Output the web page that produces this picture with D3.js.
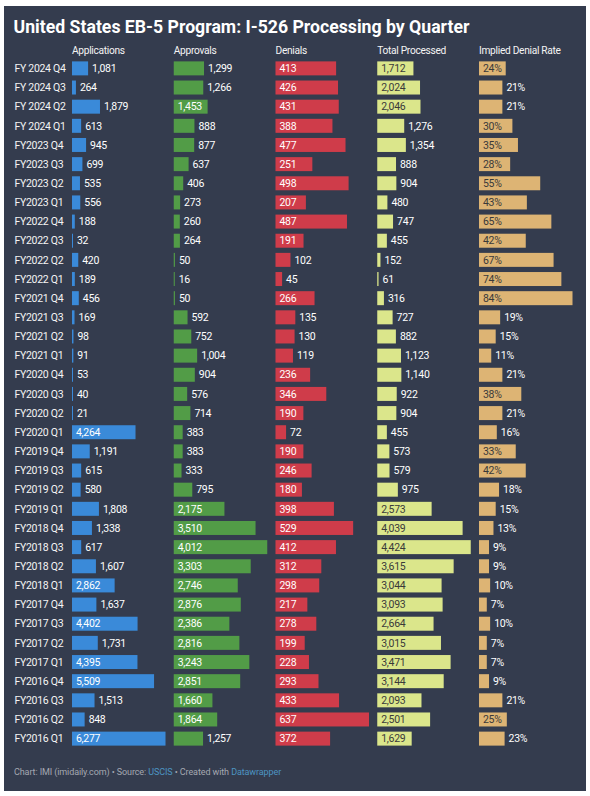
<!DOCTYPE html>
<html><head><meta charset="utf-8">
<script src="https://cdn.jsdelivr.net/npm/d3@7"></script>
<style>
body{margin:0;background:#fff}
svg{display:block}
text{font-family:Roboto,"Noto Sans",sans-serif}
</style></head>
<body><svg id="c" width="590" height="796"></svg>
<script>
const quarters = ["FY 2024 Q4","FY 2024 Q3","FY 2024 Q2","FY 2024 Q1","FY2023 Q4","FY2023 Q3","FY2023 Q2","FY2023 Q1","FY2022 Q4","FY2022 Q3","FY2022 Q2","FY2022 Q1","FY2021 Q4","FY2021 Q3","FY2021 Q2","FY2021 Q1","FY2020 Q4","FY2020 Q3","FY2020 Q2","FY2020 Q1","FY2019 Q4","FY2019 Q3","FY2019 Q2","FY2019 Q1","FY2018 Q4","FY2018 Q3","FY2018 Q2","FY2018 Q1","FY2017 Q4","FY2017 Q3","FY2017 Q2","FY2017 Q1","FY2016 Q4","FY2016 Q3","FY2016 Q2","FY2016 Q1"];
const applications = [1081,264,1879,613,945,699,535,556,188,32,420,189,456,169,98,91,53,40,21,4264,1191,615,580,1808,1338,617,1607,2862,1637,4402,1731,4395,5509,1513,848,6277];
const approvals = [1299,1266,1453,888,877,637,406,273,260,264,50,16,50,592,752,1004,904,576,714,383,383,333,795,2175,3510,4012,3303,2746,2876,2386,2816,3243,2851,1660,1864,1257];
const denials = [413,426,431,388,477,251,498,207,487,191,102,45,266,135,130,119,236,346,190,72,190,246,180,398,529,412,312,298,217,278,199,228,293,433,637,372];
const totalProcessed = [1712,2024,2046,1276,1354,888,904,480,747,455,152,61,316,727,882,1123,1140,922,904,455,573,579,975,2573,4039,4424,3615,3044,3093,2664,3015,3471,3144,2093,2501,1629];
const denialRate = [24,21,21,30,35,28,55,43,65,42,67,74,84,19,15,11,21,38,21,16,33,42,18,15,13,9,9,10,7,10,7,7,9,21,25,23];
const columnTitles = ["Applications","Approvals","Denials","Total Processed","Implied Denial Rate"];
const columnValues = [applications, approvals, denials, totalProcessed, denialRate];
const barColors = ["#3a8ad9","#529c47","#cf3c4a","#dbe68b","#ddb474"];
const insideText = ["#ffffff","#ffffff","#ffffff","#3a3a3a","#3a3a3a"];
const title = "United States EB-5 Program: I-526 Processing by Quarter";

const svg = d3.select("#c");
svg.append("rect").attr("x",4).attr("y",6).attr("width",582).attr("height",785).attr("fill","#343c4e");

svg.append("text").attr("x",13.5).attr("y",32.7).attr("fill","#ffffff")
  .attr("font-size",17.5).attr("font-weight",700)
  .attr("textLength",456).attr("lengthAdjust","spacingAndGlyphs").text(title);

const y = d3.scaleBand().domain(quarters).range([58.8, 58.8 + 36*19.15]).paddingInner(0.27).paddingOuter(0.135);
const col = d3.scaleBand().domain(columnTitles).range([72, 72 + 4*101.75 + 93.5]).paddingInner(8.25/101.75).paddingOuter(0);
const fmtN = d3.format(",");
const FS = 10.5, LS = -0.3;

// row labels
svg.append("g").selectAll("text").data(quarters).join("text")
  .attr("x",14.5).attr("y",d => y(d) + y.bandwidth()/2).attr("dy","0.35em")
  .attr("fill","#f4f4f4").attr("font-size",FS).attr("letter-spacing",LS).text(d => d);

const measure = svg.append("text").attr("font-size",FS).attr("letter-spacing",LS).attr("visibility","hidden");
function tw(s){ measure.text(s); return measure.node().getComputedTextLength(); }

columnTitles.forEach((t, k) => {
  const vals = columnValues[k];
  const x0 = col(t);
  const x = d3.scaleLinear().domain([0, d3.max(vals)]).range([0, col.bandwidth()]);
  const fmt = k === 4 ? (v => v + "%") : fmtN;
  const g = svg.append("g");
  g.append("text").attr("x", x0).attr("y", 54.3).attr("fill","#f4f4f4")
    .attr("font-size", 10.2).attr("letter-spacing",LS).text(t);
  const rows = quarters.map((q, i) => ({q, v: vals[i]}));
  g.selectAll("rect").data(rows).join("rect")
    .attr("x", x0).attr("y", d => y(d.q)).attr("height", y.bandwidth())
    .attr("width", d => Math.max(1, x(d.v))).attr("fill", barColors[k]);
  g.selectAll("text.v").data(rows).join("text").attr("class","v")
    .each(function(d){
      const s = fmt(d.v), w = x(d.v), inside = w >= tw(s) + 7.5;
      d3.select(this).attr("x", inside ? x0 + 4 : x0 + Math.max(1, w) + 4)
        .attr("fill", inside ? insideText[k] : "#ffffff").text(s);
    })
    .attr("y", d => y(d.q) + y.bandwidth()/2).attr("dy","0.35em")
    .attr("font-size", FS).attr("letter-spacing",LS);
});
measure.remove();

const foot = svg.append("text").attr("x",14).attr("y",775).attr("font-size",9).attr("letter-spacing",-0.1).attr("fill","#a4a8b1");
foot.append("tspan").text("Chart: IMI (imidaily.com) \u2022 Source: ");
foot.append("tspan").attr("fill","#4d94c2").text("USCIS");
foot.append("tspan").text(" \u2022 Created with ");
foot.append("tspan").attr("fill","#4d94c2").text("Datawrapper");
</script></body></html>
